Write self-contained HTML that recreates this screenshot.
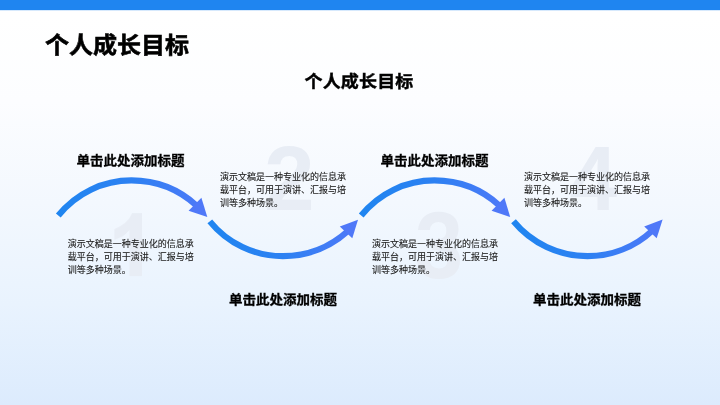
<!DOCTYPE html>
<html lang="zh-CN">
<head>
<meta charset="utf-8">
<title>个人成长目标</title>
<style>
html,body{margin:0;padding:0;background:#fff;}
html{width:720px;height:405px;overflow:hidden;}
body{width:720px;height:405px;overflow:hidden;position:relative;
  font-family:"Liberation Sans","Noto Sans CJK SC",sans-serif;}
.bg{position:absolute;left:0;top:0;width:720px;height:405px;
  background:linear-gradient(180deg,#ffffff 0%,#ffffff 4%,#fcfdff 25%,#f3f8fe 50%,#e9f3fe 75%,#dcebfd 100%);}
.bar{position:absolute;left:0;top:0;width:720px;height:11px;background:linear-gradient(180deg,#1f85f0 0,#1f85f0 10px,rgba(31,133,240,0.18) 10px,rgba(31,133,240,0.18) 11px);}
.t{position:absolute;white-space:nowrap;color:#000;font-weight:700;line-height:1;}
.title{left:44.9px;top:33.3px;font-size:24px;-webkit-text-stroke:0.6px #000;transform:translateY(0.8px) rotate(0.05deg) scaleY(0.98);transform-origin:50% 50%;}
.sub{left:-0.6px;width:720px;text-align:center;top:72.6px;font-size:18px;letter-spacing:0.17px;-webkit-text-stroke:0.45px #000;transform:translateY(-0.15px) rotate(0.05deg) scaleY(0.96);transform-origin:50% 50%;}
.h{font-size:13.5px;width:108px;text-align:center;-webkit-text-stroke:0.3px #000;transform:scaleY(0.95);transform-origin:50% 50%;}
.b{position:absolute;font-size:9px;line-height:13.2px;color:#222;width:130px;font-weight:400;-webkit-text-stroke:0.12px #222;}
.n{position:absolute;font-family:"Liberation Sans",sans-serif;font-weight:700;font-size:91px;line-height:1;color:#e8edf5;}
svg{position:absolute;left:0;top:0;}
.layer{position:absolute;left:0;top:0;width:720px;height:405px;will-change:transform;}
</style>
</head>
<body>
<div class="bg"></div>
<div class="bar"></div>
<div class="layer">
<div class="t title">个人成长目标</div>
<div class="t sub">个人成长目标</div>

</div>
<div class="n" style="left:108.2px;top:187.1px;transform:scaleY(1.70);transform-origin:0 0;clip-path:polygon(23.94px 15.29px,35.30px 15.29px,35.30px 52.35px,20.30px 52.35px,20.30px 26.41px,21.66px 25.82px,14.44px 28.99px,6.06px 31.21px,3.80px 31.21px,3.80px 24.76px,6.06px 24.76px,10.99px 23.44px,16.33px 21.31px,21.00px 18.55px);">1</div>
<div class="n" style="left:264px;top:133px;">2</div>
<div class="n" style="left:414.6px;top:198.6px;transform:scale(0.95,1.03);transform-origin:0 0;">3</div>
<div class="n" style="left:567px;top:133px;transform:scaleX(0.94);transform-origin:42px 0;">4</div>

<svg width="720" height="405" viewBox="0 0 720 405">
  <defs>
    <linearGradient id="g1" gradientUnits="userSpaceOnUse" x1="58" y1="0" x2="207" y2="0">
      <stop offset="0" stop-color="#1f85f0"/><stop offset="0.5" stop-color="#2d81f2"/><stop offset="1" stop-color="#4f78f8"/>
    </linearGradient>
    <linearGradient id="g2" gradientUnits="userSpaceOnUse" x1="210" y1="0" x2="358" y2="0">
      <stop offset="0" stop-color="#1f85f0"/><stop offset="0.5" stop-color="#2d81f2"/><stop offset="1" stop-color="#4f78f8"/>
    </linearGradient>
    <linearGradient id="g3" gradientUnits="userSpaceOnUse" x1="360" y1="0" x2="509" y2="0">
      <stop offset="0" stop-color="#1f85f0"/><stop offset="0.5" stop-color="#2d81f2"/><stop offset="1" stop-color="#4f78f8"/>
    </linearGradient>
    <linearGradient id="g4" gradientUnits="userSpaceOnUse" x1="512" y1="0" x2="660" y2="0">
      <stop offset="0" stop-color="#1f85f0"/><stop offset="0.5" stop-color="#2d81f2"/><stop offset="1" stop-color="#4f78f8"/>
    </linearGradient>
  </defs>
  <g id="a1">
    <path d="M58.3 215.5 A93.65 93.65 0 0 1 131.4 180.4 A97 97 0 0 1 197 205.9" fill="none" stroke="url(#g1)" stroke-width="6.1"/>
    <path d="M207.3 217 L201.4 197.8 L188.6 210.8 Z" fill="#4f78f8"/>
  </g>
  <g id="a2">
    <path d="M209.8 221.3 A94 94 0 0 0 282.9 256.15 A97 97 0 0 0 348 231.06" fill="none" stroke="url(#g2)" stroke-width="6.1"/>
    <path d="M358 219.7 L339.8 226.5 L352.3 238.2 Z" fill="#4f78f8"/>
  </g>
  <g id="a3">
    <path d="M361.2 215.5 A93.65 93.65 0 0 1 434.3 180.4 A97 97 0 0 1 499.9 205.9" fill="none" stroke="url(#g3)" stroke-width="6.1"/>
    <path d="M510.2 217 L504.4 197.8 L491.6 210.8 Z" fill="#4f78f8"/>
  </g>
  <g id="a4">
    <path d="M513.5 221.3 A96 96 0 0 0 587.5 256.15 A95.15 95.15 0 0 0 652.5 230.5" fill="none" stroke="url(#g4)" stroke-width="6.1"/>
    <path d="M662.6 219.6 L644.2 226.5 L656.7 238.2 Z" fill="#4f78f8"/>
  </g>
</svg>

<div class="layer">
<div class="t h" style="left:76.6px;top:154.4px;">单击此处添加标题</div>
<div class="t h" style="left:229px;top:293px;">单击此处添加标题</div>
<div class="t h" style="left:380.6px;top:154.4px;">单击此处添加标题</div>
<div class="t h" style="left:533px;top:293px;">单击此处添加标题</div>

<div class="b" style="left:67.8px;top:237.9px;">演示文稿是一种专业化的信息承载平台，可用于演讲、汇报与培训等多种场景。</div>
<div class="b" style="left:220px;top:170.9px;">演示文稿是一种专业化的信息承载平台，可用于演讲、汇报与培训等多种场景。</div>
<div class="b" style="left:372px;top:237.9px;">演示文稿是一种专业化的信息承载平台，可用于演讲、汇报与培训等多种场景。</div>
<div class="b" style="left:524px;top:170.9px;">演示文稿是一种专业化的信息承载平台，可用于演讲、汇报与培训等多种场景。</div>
</div>
</body>
</html>
